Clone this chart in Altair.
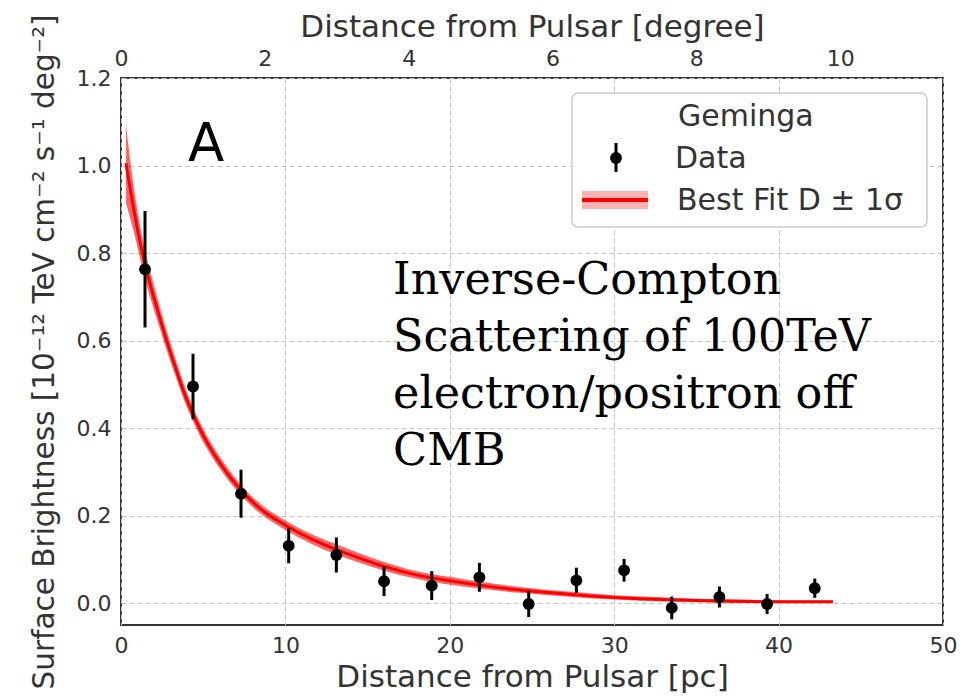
import altair as alt
import pandas as pd

# ---- data ----
pc_bins = [1.46, 4.38, 7.3, 10.2, 13.1, 16.0, 18.9, 21.8, 24.8, 27.7, 30.6, 33.5, 36.4, 39.3, 42.2]
brightness = [0.763, 0.495, 0.250, 0.131, 0.110, 0.050, 0.040, 0.059, -0.002, 0.052, 0.075, -0.011, 0.014, -0.002, 0.034]
brightness_err = [0.133, 0.075, 0.055, 0.040, 0.040, 0.034, 0.033, 0.033, 0.030, 0.029, 0.026, 0.026, 0.024, 0.023, 0.022]

fit_pc = [0.3, 0.8, 1.3, 1.8, 2.3, 2.8, 3.3, 3.8, 4.4, 5.0, 5.7, 6.5, 7.3, 8.5, 10.0, 11.5, 13.0, 14.5,
          16.0, 18.0, 20.0, 22.0, 24.0, 26.0, 28.0, 30.0, 32.5, 35.0, 37.5, 40.0, 43.3]
fit_mid = [1.005, 0.895, 0.800, 0.725, 0.660, 0.597, 0.540, 0.485, 0.430, 0.383, 0.338, 0.295, 0.258,
           0.215, 0.178, 0.148, 0.124, 0.103, 0.084, 0.064, 0.051, 0.040, 0.031, 0.024, 0.018, 0.013,
           0.009, 0.006, 0.004, 0.003, 0.003]
fit_lo = [0.915, 0.845, 0.765, 0.695, 0.635, 0.575, 0.520, 0.467, 0.414, 0.368, 0.324, 0.282, 0.246,
          0.204, 0.167, 0.137, 0.112, 0.092, 0.074, 0.055, 0.042, 0.032, 0.024, 0.018, 0.012, 0.008,
          0.004, 0.002, 0.000, 0.000, 0.000]
fit_hi = [1.095, 0.945, 0.835, 0.755, 0.685, 0.619, 0.560, 0.503, 0.446, 0.398, 0.352, 0.308, 0.270,
          0.226, 0.189, 0.159, 0.136, 0.114, 0.094, 0.073, 0.060, 0.048, 0.038, 0.030, 0.024, 0.018,
          0.014, 0.010, 0.008, 0.006, 0.006]

deg_ticks = [0, 2, 4, 6, 8, 10]
pc_ticks = [0, 10, 20, 30, 40, 50]
y_ticks = [0.0, 0.2, 0.4, 0.6, 0.8, 1.0, 1.2]

panel_label = ["A"]
panel_label_pos = [(4.08, 1.01)]
note_text = ["Inverse-Compton", "Scattering of 100TeV", "electron/positron off", "CMB"]
note_pos = [(16.55, 0.706)]

legend_title = "Geminga"
legend_labels = ["Data", "Best Fit D \u00b1 1\u03c3"]

# ---- tables ----
pts = pd.DataFrame({
    "pc": pc_bins,
    "val": brightness,
    "lo": [v - e for v, e in zip(brightness, brightness_err)],
    "hi": [v + e for v, e in zip(brightness, brightness_err)],
})
fit = pd.DataFrame({"pc": fit_pc, "mid": fit_mid, "lo": fit_lo, "hi": fit_hi})
deg_df = pd.DataFrame({"deg": [0.0, 11.43]})
one = pd.DataFrame({"k": [0]})

FONT = "DejaVu Sans"
XDOM = [0, 50]
YDOM = [-0.05, 1.2]

xs = alt.Scale(domain=XDOM, nice=False, zero=False)
ys = alt.Scale(domain=YDOM, nice=False, zero=False)

x_axis = alt.Axis(title="Distance from Pulsar [pc]", values=pc_ticks, format="d", grid=True,
                  ticks=False, domain=False, labelFontSize=22, titleFontSize=31, labelPadding=10,
                  titlePadding=6, labelFlush=False, titleFontWeight="normal")
y_axis = alt.Axis(title="Surface Brightness [10\u207b\u00b9\u00b2 TeV cm\u207b\u00b2 s\u207b\u00b9 deg\u207b\u00b2]",
                  values=y_ticks, format=".1f", grid=True, ticks=False, domain=False,
                  labelFontSize=22, titleFontSize=29.5, labelPadding=10, titlePadding=17, labelFlush=False,
                  titleFontWeight="normal")

band = alt.Chart(fit).mark_area(color="#ff0000", opacity=0.6, interpolate="monotone").encode(
    x=alt.X("pc:Q", scale=xs, axis=x_axis),
    y=alt.Y("lo:Q", scale=ys, axis=y_axis),
    y2="hi:Q",
)
mid = alt.Chart(fit).mark_line(color="#ff0000", strokeWidth=3, interpolate="monotone").encode(
    x=alt.X("pc:Q", scale=xs),
    y=alt.Y("mid:Q", scale=ys),
)
errs = alt.Chart(pts).mark_rule(color="black", strokeWidth=3).encode(
    x=alt.X("pc:Q", scale=xs),
    y=alt.Y("lo:Q", scale=ys),
    y2="hi:Q",
)
dots = alt.Chart(pts).mark_point(filled=True, color="black", size=140, opacity=1).encode(
    x=alt.X("pc:Q", scale=xs),
    y=alt.Y("val:Q", scale=ys),
)

lab_df = pd.DataFrame({"x": [p[0] for p in panel_label_pos], "y": [p[1] for p in panel_label_pos],
                       "t": panel_label})
panel = alt.Chart(lab_df).mark_text(font=FONT, fontSize=53, color="black", align="left",
                                    baseline="alphabetic").encode(
    x=alt.X("x:Q", scale=xs), y=alt.Y("y:Q", scale=ys), text="t:N")

note_df = pd.DataFrame({"x": [note_pos[0][0]], "y": [note_pos[0][1]], "t": ["\n".join(note_text)]})
note = alt.Chart(note_df).mark_text(font="DejaVu Serif", fontSize=44.5, color="black", align="left",
                                    baseline="alphabetic", lineBreak="\n", lineHeight=57).encode(
    x=alt.X("x:Q", scale=xs), y=alt.Y("y:Q", scale=ys), text="t:N")

inner = alt.layer(band, mid, errs, dots, panel, note)

top = alt.Chart(deg_df).mark_point(opacity=0).encode(
    x=alt.X("deg:Q", scale=alt.Scale(domain=[0, 11.43], nice=False, zero=False),
            axis=alt.Axis(orient="top", title="Distance from Pulsar [degree]", values=deg_ticks,
                          format="d", grid=False, ticks=False, domain=False, labelFontSize=22,
                          titleFontSize=31, labelPadding=8, titlePadding=4, labelFlush=False,
                          titleFontWeight="normal"))
)

# ---- legend (boxed key, positions relative to the plot area) ----
leg_box = alt.Chart(one).mark_rect(fill="white", stroke="#cccccc", strokeWidth=1.5, cornerRadius=6).encode(
    x=alt.value(451), x2=alt.value(806), y=alt.value(15), y2=alt.value(149))
leg_title = alt.Chart(one).mark_text(text=legend_title, font=FONT, fontSize=30, color="#333333",
                                     align="left", baseline="alphabetic").encode(
    x=alt.value(557), y=alt.value(48))
leg_t1 = alt.Chart(one).mark_text(text=legend_labels[0], font=FONT, fontSize=30, color="#333333",
                                  align="left", baseline="alphabetic").encode(
    x=alt.value(554), y=alt.value(90))
leg_t2 = alt.Chart(one).mark_text(text=legend_labels[1], font=FONT, fontSize=30, color="#333333",
                                  align="left", baseline="alphabetic").encode(
    x=alt.value(556), y=alt.value(132))
leg_err = alt.Chart(one).mark_rule(color="black", strokeWidth=3).encode(
    x=alt.value(495), y=alt.value(65), y2=alt.value(94))
leg_dot = alt.Chart(one).mark_point(filled=True, color="black", size=140, opacity=1).encode(
    x=alt.value(495), y=alt.value(80))
leg_band = alt.Chart(one).mark_rect(fill="#ff0000", opacity=0.3).encode(
    x=alt.value(461), x2=alt.value(527), y=alt.value(113), y2=alt.value(131))
leg_line = alt.Chart(one).mark_rule(color="#ff0000", strokeWidth=4).encode(
    x=alt.value(461), x2=alt.value(527), y=alt.value(122))

chart = alt.layer(
    inner, top, leg_box, leg_band, leg_line, leg_err, leg_dot, leg_title, leg_t1, leg_t2
).resolve_scale(x="independent").properties(
    width=822, height=547,
    padding={"left": 121, "top": 78, "right": 31, "bottom": 71},
    autosize=alt.AutoSizeParams(type="none"),
).configure_view(
    stroke="#333333", strokeWidth=2
).configure_axis(
    labelFont=FONT, titleFont=FONT, labelColor="#333333", titleColor="#333333",
    titleFontWeight="normal", gridColor="#c4c4c4", gridDash=[5, 3], gridWidth=1
)

chart.save("out.html", embed_options={"renderer": "svg", "actions": False})
